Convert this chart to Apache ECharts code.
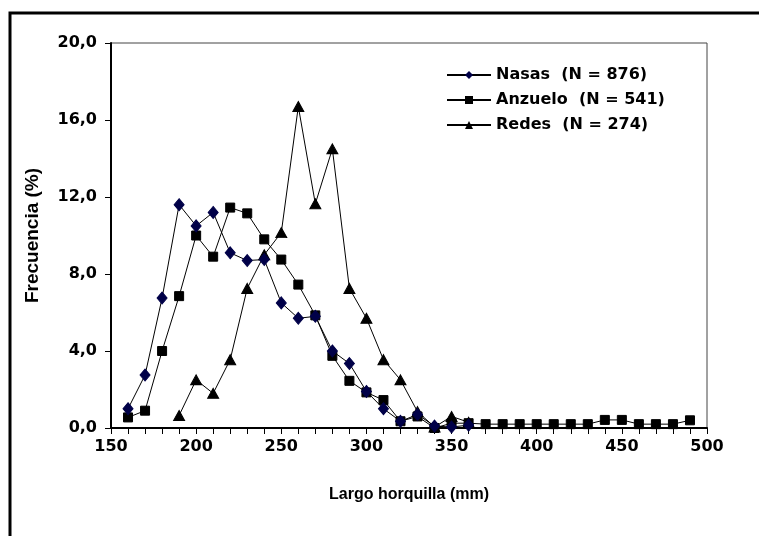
<!DOCTYPE html>
<html>
<head>
<meta charset="utf-8">
<script src="https://cdn.jsdelivr.net/npm/echarts@6/dist/echarts.min.js"></script>
<style>
  html, body { margin: 0; padding: 0; background: #fff; }
  #chart { width: 759px; height: 536px; }
</style>
</head>
<body>
<div id="chart"></div>
<script>
// Fork length classes (mm)
const lengths = [160, 170, 180, 190, 200, 210, 220, 230, 240, 250, 260, 270, 280, 290, 300, 310, 320, 330, 340, 350, 360, 370, 380, 390, 400, 410, 420, 430, 440, 450, 460, 470, 480, 490];

// Frequency (%) per gear; null where the gear caught nothing in that class
const nasas = [1.0, 2.75, 6.75, 11.6, 10.5, 11.2, 9.1, 8.7, 8.75, 6.5, 5.7, 5.8, 4.0, 3.35, 1.9, 1.0, 0.35, 0.7, 0.1, 0.05, 0.15, null, null, null, null, null, null, null, null, null, null, null, null, null];
const anzuelo = [0.55, 0.9, 4.0, 6.85, 10.0, 8.9, 11.45, 11.15, 9.8, 8.75, 7.45, 5.85, 3.75, 2.45, 1.85, 1.45, 0.35, 0.6, 0.0, 0.25, 0.25, 0.2, 0.2, 0.2, 0.2, 0.2, 0.2, 0.2, 0.42, 0.42, 0.2, 0.2, 0.2, 0.4];
const redes = [null, null, null, 0.65, 2.5, 1.8, 3.55, 7.25, 9.0, 10.15, 16.7, 11.65, 14.5, 7.25, 5.7, 3.55, 2.5, 0.85, 0.05, 0.6, 0.3, null, null, null, null, null, null, null, null, null, null, null, null, null];

const seriesNames = ['Nasas  (N = 876)', 'Anzuelo  (N = 541)', 'Redes  (N = 274)'];

const yTicks = { min: 0, max: 20, interval: 4 };
const xTicks = { min: 150, max: 500, interval: 50 };

function pairs(values) {
  const out = [];
  values.forEach((v, i) => { if (v !== null) out.push([lengths[i], v]); });
  return out;
}

const tickFont = { fontFamily: 'DejaVu Sans', fontWeight: 'bold', fontSize: 16, color: '#000' };
const titleFont = { fontFamily: 'Liberation Sans', fontWeight: 'bold', color: '#000' };

const chart = echarts.init(document.getElementById('chart'), null, { renderer: 'canvas' });

chart.setOption({
  animation: false,
  backgroundColor: '#fff',
  graphic: [{
    type: 'rect',
    shape: { x: 10, y: 13, width: 820, height: 620 },
    style: { fill: 'none', stroke: '#000', lineWidth: 3 },
    silent: true,
    z: 100
  }],
  grid: {
    left: 111, right: 52, top: 43, bottom: 108,
    show: true, borderColor: '#444', borderWidth: 1
  },
  legend: {
    orient: 'vertical',
    left: 441, top: 62,
    itemWidth: 44, itemHeight: 10,
    itemGap: 9,
    textStyle: { fontFamily: 'DejaVu Sans', fontWeight: 'bold', fontSize: 16, color: '#000' },
    data: seriesNames
  },
  xAxis: {
    type: 'value',
    min: xTicks.min, max: xTicks.max, interval: xTicks.interval,
    name: 'Largo horquilla (mm)',
    nameLocation: 'middle', nameGap: 59,
    nameTextStyle: Object.assign({}, titleFont, { fontSize: 16 }),
    axisLine: { show: true, lineStyle: { color: '#000', width: 2 } },
    axisTick: { show: true, inside: false, length: 6, lineStyle: { color: '#000', width: 1 } },
    minorTick: { show: true, splitNumber: 5, length: 6, lineStyle: { color: '#000', width: 1 } },
    splitLine: { show: false },
    axisLabel: Object.assign({ margin: 11 }, tickFont)
  },
  yAxis: {
    type: 'value',
    min: yTicks.min, max: yTicks.max, interval: yTicks.interval,
    name: 'Frecuencia (%)',
    nameLocation: 'middle', nameGap: 69,
    nameTextStyle: Object.assign({}, titleFont, { fontSize: 19 }),
    axisLine: { show: true, lineStyle: { color: '#000', width: 2 } },
    axisTick: { show: true, inside: false, length: 6, lineStyle: { color: '#000', width: 1 } },
    splitLine: { show: false },
    axisLabel: Object.assign({
      margin: 14,
      formatter: v => v.toFixed(1).replace('.', ',')
    }, tickFont)
  },
  series: [
    {
      name: seriesNames[0], type: 'line', data: pairs(nasas),
      symbol: 'diamond', symbolSize: [10, 12],
      itemStyle: { color: '#000048', borderColor: '#000048' },
      lineStyle: { color: '#000', width: 1 },
      z: 3
    },
    {
      name: seriesNames[1], type: 'line', data: pairs(anzuelo),
      symbol: 'rect', symbolSize: 9,
      itemStyle: { color: '#000', borderColor: '#000' },
      lineStyle: { color: '#000', width: 1 },
      z: 2
    },
    {
      name: seriesNames[2], type: 'line', data: pairs(redes),
      symbol: 'triangle', symbolSize: [11, 10],
      itemStyle: { color: '#000', borderColor: '#000' },
      lineStyle: { color: '#000', width: 1 },
      z: 2
    }
  ]
});
</script>
</body>
</html>
